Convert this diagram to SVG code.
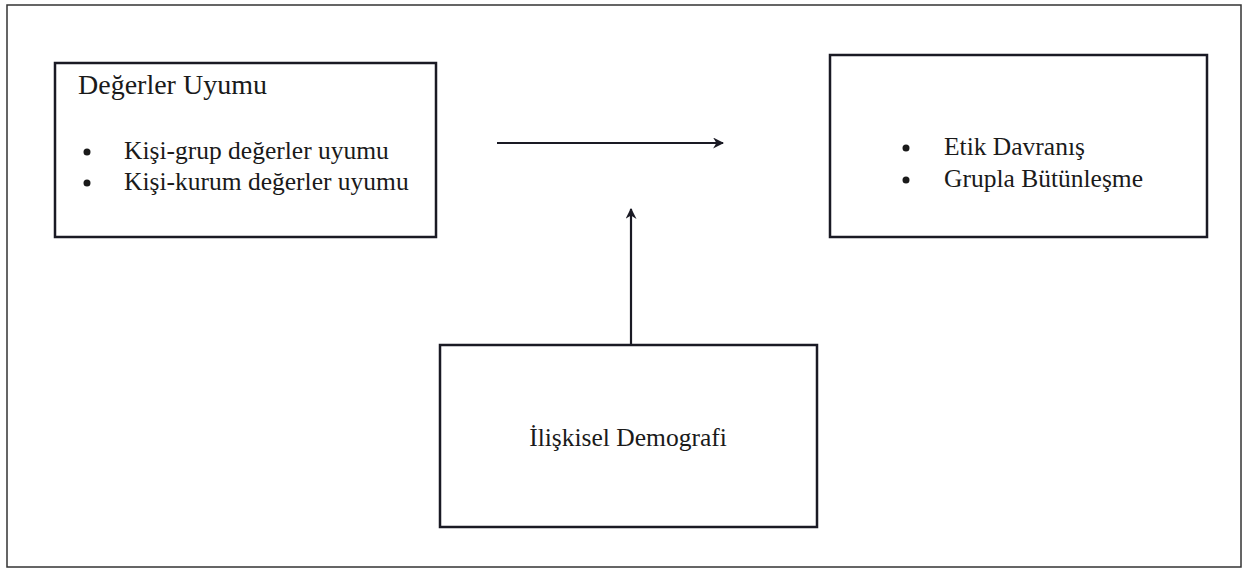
<svg xmlns="http://www.w3.org/2000/svg" width="1248" height="569" viewBox="0 0 1248 569">
<style>
.box{fill:#fff;stroke:#1a1a24;stroke-width:2.5}
.frame{fill:none;stroke:#333;stroke-width:1.5}
.t{font-family:"Liberation Serif",serif;font-size:25.5px;fill:#1a1a1a}
.h{font-size:28px}
.b{fill:#1a1a1a}
.c{stroke:#1a1a24;stroke-width:2.2;fill:none}
</style>
<defs>
<marker id="ah" viewBox="0 0 10 10" refX="9" refY="5" markerWidth="5" markerHeight="5" orient="auto" markerUnits="strokeWidth">
<path d="M0,0 L10,5 L0,10 L3,5 Z" fill="#1a1a24"/>
</marker>
</defs>
<rect width="1248" height="569" fill="#fff"/>
<rect class="frame" x="7" y="5" width="1234" height="562"/>
<g id="degerler">
<rect class="box" x="55" y="63" width="381" height="174"/>
<text class="t h" x="78" y="94">Değerler Uyumu</text>
<circle class="b" cx="87" cy="152" r="3.5"/>
<text class="t" x="124" y="158.5">Kişi-grup değerler uyumu</text>
<circle class="b" cx="87" cy="183" r="3.5"/>
<text class="t" x="124" y="189.5">Kişi-kurum değerler uyumu</text>
</g>
<g id="sonuclar">
<rect class="box" x="830" y="55" width="377" height="182"/>
<circle class="b" cx="906" cy="148" r="3.5"/>
<text class="t" x="944" y="154.5">Etik Davranış</text>
<circle class="b" cx="906" cy="180" r="3.5"/>
<text class="t" x="944" y="186.5">Grupla Bütünleşme</text>
</g>
<g id="demografi">
<rect class="box" x="440" y="345" width="377" height="182"/>
<text class="t" x="628" y="445.5" text-anchor="middle">İlişkisel Demografi</text>
</g>
<g id="connectors">
<line class="c" x1="497" y1="143" x2="723" y2="143" marker-end="url(#ah)"/>
<line class="c" x1="631" y1="345" x2="631" y2="209" marker-end="url(#ah)"/>
</g>
</svg>
